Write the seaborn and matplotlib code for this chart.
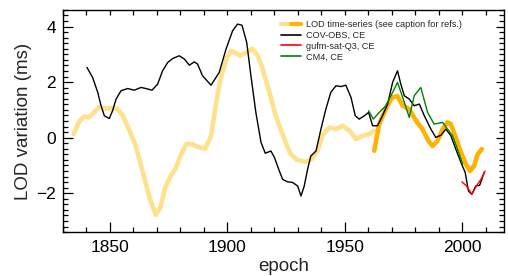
import numpy as np
import pandas as pd
import seaborn as sns
from matplotlib import pyplot as plt
from matplotlib.ticker import MultipleLocator
from matplotlib.legend_handler import HandlerTuple

sns.set_theme(style='ticks')
plt.rcParams['font.family'] = ['Liberation Sans', 'DejaVu Sans']

# LOD time-series, older part (pale)
lod_old_year = [1834.5, 1837, 1839, 1841, 1843.5, 1845.5, 1847.5, 1850.5, 1853, 1855.5,
                1858, 1861, 1864, 1867, 1869.5, 1871.5, 1873.5, 1876, 1878, 1880,
                1882.5, 1885, 1888, 1890.5, 1893, 1895, 1897, 1899.5, 1901.5, 1903.5,
                1905.5, 1908, 1910.5, 1913, 1915, 1918, 1920.5, 1922.5, 1924.5, 1926.8,
                1929.6, 1933.2, 1936, 1938.5, 1940.5, 1943.4, 1946.2, 1949, 1952, 1954.7,
                1957.5, 1960.4, 1962.5]
lod_old_val = [0.13, 0.6, 0.76, 0.73, 0.93, 1.12, 1.05, 1.06, 1.05, 0.79,
               0.31, -0.3, -1.25, -2.2, -2.78, -2.5, -1.8, -1.35, -1.1, -0.65,
               -0.23, -0.23, -0.35, -0.4, 0.05, 1.15, 2.1, 2.83, 3.13, 3.05,
               2.95, 3.07, 3.2, 2.95, 2.47, 1.6, 0.8, 0.35, -0.1, -0.58,
               -0.8, -0.87, -0.76, -0.45, 0.1, 0.37, 0.31, 0.43, 0.25, -0.05,
               0.07, 0.13, 0.25]

# LOD time-series, recent part (orange)
lod_new_year = [1962.5, 1964.6, 1967.4, 1970, 1972.3, 1974.6, 1977.4, 1980.2, 1983, 1985.5,
                1987.3, 1989.4, 1991.6, 1993.7, 1995.1, 1997.2, 1999.4, 2001.5, 2003.2, 2005,
                2006.5, 2008.3]
lod_new_val = [-0.47, 0.49, 1.03, 1.45, 1.5, 1.15, 1.03, 0.62, 0.31, -0.1,
               -0.3, -0.12, 0.31, 0.55, 0.49, 0.01, -0.53, -0.95, -1.2, -1.02,
               -0.6, -0.41]

# COV-OBS, CE
cov_year = [1840.2, 1842.6, 1844.8, 1846.2, 1847.6, 1849.7, 1851.1, 1852.6, 1854.7, 1857.5,
            1860.4, 1863.2, 1865.3, 1867.9, 1870.3, 1872.4, 1874.6, 1876.7, 1879.5, 1881.7,
            1883.8, 1885.9, 1887.3, 1889.4, 1893, 1896.5, 1899.4, 1902.2, 1904.3, 1906.2,
            1908.2, 1910, 1912.1, 1914.3, 1916.1, 1918.5, 1920, 1922.1, 1923.5, 1925.6,
            1927.7, 1929.9, 1931.3, 1932.7, 1934.1, 1935.5, 1937.7, 1939.8, 1941.9, 1944,
            1946.2, 1948.3, 1950.4, 1952.6, 1954.4, 1956.1, 1958.3, 1960.1, 1961.8, 1963.9,
            1966, 1968.2, 1970.3, 1972.4, 1973.8, 1975.3, 1977.4, 1979.5, 1981.7, 1983.8,
            1986.6, 1988.7, 1990.9, 1993, 1995.1, 1997.2, 1999.4, 2001.2, 2002.6, 2004,
            2005.7, 2007.4, 2009.3]
cov_val = [2.53, 2.17, 1.63, 1.15, 0.79, 0.69, 0.97, 1.39, 1.69, 1.77,
           1.71, 1.81, 1.77, 1.71, 1.93, 2.41, 2.71, 2.85, 2.95, 2.83,
           2.61, 2.73, 2.65, 2.23, 1.89, 2.35, 3.19, 3.85, 4.09, 4.05,
           3.43, 2.23, 0.91, -0.17, -0.56, -0.48, -0.71, -1.2, -1.5, -1.59,
           -1.61, -1.74, -2.1, -1.74, -1.14, -0.66, -0.48, 0.31, 1.03, 1.63,
           1.87, 1.84, 1.89, 1.45, 0.79, 0.67, 0.79, 0.91, 0.43, 0.43,
           0.79, 1.21, 1.99, 2.41, 1.93, 1.51, 1.39, 1.15, 1.21, 0.79,
           0.31, 0.01, 0.09, 0.31, 0.07, -0.41, -0.89, -1.25, -1.92, -2.04,
           -1.74, -1.71, -1.25]

# gufm-sat-Q3, CE
gufm_year = [1999.8, 2001.8, 2004, 2006, 2007.9, 2009.7]
gufm_val = [-1.59, -1.74, -2.04, -1.74, -1.5, -1.2]

# CM4, CE
cm4_year = [1960.1, 1962.1, 1964.6, 1967.4, 1970.3, 1972.4, 1974.6, 1977.4, 1979.5, 1982.3,
            1985.2, 1988, 1991.6, 1993.7, 1995.8, 1997.9, 2000.1]
cm4_val = [0.97, 0.67, 0.91, 1.15, 1.63, 1.99, 1.45, 0.73, 1.51, 1.81,
           0.91, 0.49, 0.55, 0.31, 0.07, -0.41, -0.95]

pale = '#ffe08c'
orange = '#ffb300'

fig = plt.figure(figsize=(5.08, 2.76), dpi=100)
ax = fig.add_axes([0.124, 0.159, 0.868, 0.805])

rnd = dict(solid_capstyle='round', solid_joinstyle='round')
sns.lineplot(x=lod_old_year, y=lod_old_val, ax=ax, color=pale, lw=3.3, sort=False, **rnd)
sns.lineplot(x=lod_new_year, y=lod_new_val, ax=ax, color=orange, lw=3.3, sort=False, **rnd)
sns.lineplot(x=cov_year, y=cov_val, ax=ax, color='black', lw=1.0, sort=False)
sns.lineplot(x=cm4_year, y=cm4_val, ax=ax, color='#008000', lw=1.0, sort=False)
sns.lineplot(x=gufm_year, y=gufm_val, ax=ax, color='red', lw=1.0, sort=False)

ax.set_xlim(1830, 2017.7)
ax.set_ylim(-3.4, 4.6)
ax.xaxis.set_major_locator(MultipleLocator(50))
ax.xaxis.set_minor_locator(MultipleLocator(10))
ax.yaxis.set_major_locator(MultipleLocator(2))
ax.yaxis.set_minor_locator(MultipleLocator(0.2))
ax.tick_params(which='both', direction='in', top=True, right=True, width=0.9,
               labelsize=12.5, colors='black')
ax.tick_params(which='major', length=7.5)
ax.tick_params(which='minor', length=3.6)
ax.tick_params(axis='x', which='major', pad=6)
ax.tick_params(axis='y', which='major', pad=5)
for t in ax.xaxis.get_major_ticks():
    t.tick2line.set_markersize(3.6)
for t in ax.yaxis.get_major_ticks():
    t.tick2line.set_markersize(5.8)
for s in ax.spines.values():
    s.set_linewidth(1.0)
    s.set_color('black')

ax.set_xlabel('epoch', fontsize=13.5, labelpad=2)
ax.set_ylabel('LOD variation (ms)', fontsize=13.5, labelpad=3)

h_pale = plt.Line2D([], [], color=pale, lw=3)
h_or = plt.Line2D([], [], color=orange, lw=3)
h_cov = plt.Line2D([], [], color='black', lw=1.2)
h_gufm = plt.Line2D([], [], color='red', lw=1.2)
h_cm4 = plt.Line2D([], [], color='#008000', lw=1.2)
ax.legend([(h_pale, h_or), h_cov, h_gufm, h_cm4],
          ['LOD time-series (see caption for refs.)', 'COV-OBS, CE', 'gufm-sat-Q3, CE', 'CM4, CE'],
          handler_map={tuple: HandlerTuple(ndivide=None, pad=0)},
          loc='upper left', bbox_to_anchor=(0.494, 0.955), frameon=False,
          fontsize=6.6, borderpad=0, borderaxespad=0, handlelength=2.2,
          handletextpad=0.55, labelspacing=0.2)

plt.savefig('out.png', dpi=100)
